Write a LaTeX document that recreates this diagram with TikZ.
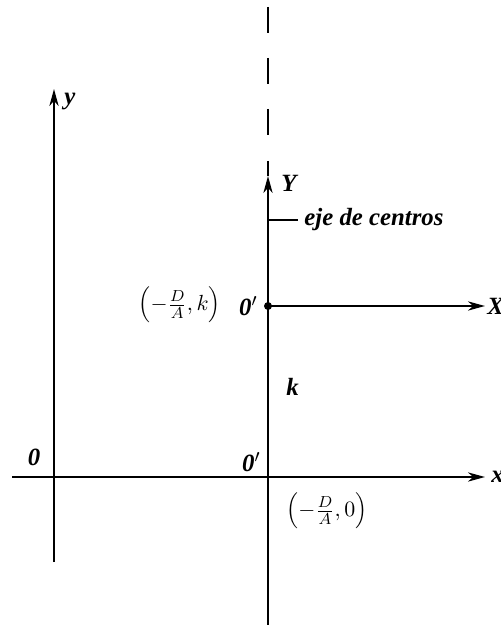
\documentclass[tikz,border=0pt]{standalone}
\usepackage{fontspec}
\setmainfont{Liberation Serif}
\usetikzlibrary{arrows.meta}
\begin{document}
\begin{tikzpicture}[x=0.5pt,y=-0.5pt,
  axis/.style={line width=1pt},
  tip/.style={-{Stealth[length=8.5pt,width=4.6pt,inset=2.6pt]}},
  lab/.style={font=\fontsize{12.4}{14}\selectfont\bfseries\itshape, inner sep=0pt},
  mlab/.style={font=\fontsize{11}{13}\selectfont, inner sep=0pt}]
\useasboundingbox (0,0) rectangle (501,625);
% coordinates
\coordinate (xs) at (12,477);
\coordinate (xe) at (485,477);
\coordinate (ys) at (54,562);
\coordinate (ye) at (54,89);
\coordinate (Vtop) at (268,7);
\coordinate (Vdash) at (268,135);
\coordinate (Vs) at (268,161);
\coordinate (Yt) at (268,176);
\coordinate (Vb) at (268,625);
\coordinate (O2) at (268,306);
\coordinate (Xe) at (485,306);
\coordinate (ts) at (268,220);
\coordinate (te) at (298,220);
% axes
\draw[axis,tip] (xs) -- (xe);
\draw[axis,tip] (ys) -- (ye);
\draw[axis,dash pattern=on 13pt off 12.5pt] (Vtop) -- (Vdash);
\draw[axis] (Vs) -- (Yt);
\draw[axis,tip] (Vb) -- (Yt);
\draw[axis,tip] (O2) -- (Xe);
\draw[axis] (ts) -- (te);
\fill (O2) circle[radius=2pt];
% labels
\node[lab,anchor=west] (lx) at (491,477) {x};
\node[lab,anchor=west] (lX) at (487,306) {X};
\node[lab,anchor=west] (ly) at (64,101) {y};
\node[lab,anchor=west] (lY) at (281,183) {Y};
\node[lab,anchor=west] (lej) at (304,220) {eje de centros};
\node[lab,anchor=east] (lO2) at (258,306) {0$'$};
\node[mlab,anchor=east] (lpk) at (221,305) {$\left(-\frac{D}{A},k\right)$};
\node[lab,anchor=west] (lk) at (286,387) {k};
\node[lab] (lO) at (34,457) {0};
\node[lab,anchor=east] (lO3) at (261,462) {0$'$};
\node[mlab,anchor=west] (lp0) at (286,511) {$\left(-\frac{D}{A},0\right)$};
\end{tikzpicture}
\end{document}
